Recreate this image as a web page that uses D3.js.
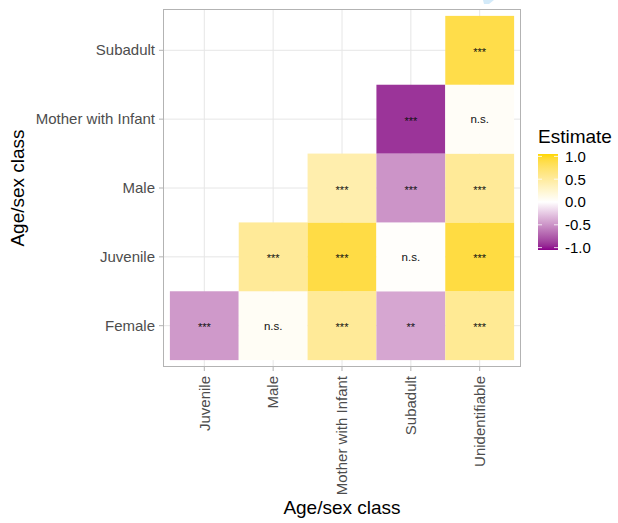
<!DOCTYPE html>
<html>
<head>
<meta charset="utf-8">
<script src="https://cdn.jsdelivr.net/npm/d3@7"></script>
<style>
  html, body { margin: 0; padding: 0; background: #ffffff; }
  svg { display: block; font-family: "Liberation Sans", Arial, Helvetica, sans-serif; }
</style>
</head>
<body>
<svg id="chart" width="618" height="523"></svg>
<script>
// Pairwise comparisons between age/sex classes
const xCategories = ["Juvenile", "Male", "Mother with Infant", "Subadult", "Unidentifiable"];
const yCategories = ["Female", "Juvenile", "Male", "Mother with Infant", "Subadult"];

// One entry per tile: column class, row class, estimate, significance label
const cellCol = [
  "Juvenile", "Male", "Mother with Infant", "Subadult", "Unidentifiable",
  "Male", "Mother with Infant", "Subadult", "Unidentifiable",
  "Mother with Infant", "Subadult", "Unidentifiable",
  "Subadult", "Unidentifiable",
  "Unidentifiable"
];
const cellRow = [
  "Female", "Female", "Female", "Female", "Female",
  "Juvenile", "Juvenile", "Juvenile", "Juvenile",
  "Male", "Male", "Male",
  "Mother with Infant", "Mother with Infant",
  "Subadult"
];
const estimates = [
  -0.45, 0.05, 0.50, -0.39, 0.52,
  0.50, 0.86, 0.02, 0.87,
  0.40, -0.47, 0.50,
  -0.88, 0.04,
  0.84
];
const signifLabels = [
  "***", "n.s.", "***", "**", "***",
  "***", "***", "n.s.", "***",
  "***", "***", "***",
  "***", "n.s.",
  "***"
];

const legendTicks = [1.0, 0.5, 0.0, -0.5, -1.0];
const xTitle = "Age/sex class";
const yTitle = "Age/sex class";
const legendTitle = "Estimate";

const cells = cellCol.map((c, i) => ({
  col: c, row: cellRow[i], value: estimates[i], label: signifLabels[i]
}));

const svg = d3.select("#chart");

const panel = { left: 163, right: 521, top: 9, bottom: 367 };

const x = d3.scaleBand()
  .domain(xCategories)
  .range([panel.left, panel.right])
  .paddingInner(0)
  .paddingOuter(0.1);

const y = d3.scaleBand()
  .domain(yCategories.slice().reverse())
  .range([panel.top, panel.bottom])
  .paddingInner(0)
  .paddingOuter(0.1);

const color = d3.scaleLinear()
  .domain([-1, 0, 1])
  .range(["#8B008B", "#FFFFFF", "#FFD700"])
  .interpolate(d3.interpolateLab)
  .clamp(true);

// small light-blue corner mark at the top edge
svg.append("path")
  .attr("d", "M483,0 L494,0 L489,4 L484,4 Z")
  .attr("fill", "#D3EAF9");

// Panel background and grid
svg.append("rect")
  .attr("x", panel.left).attr("y", panel.top)
  .attr("width", panel.right - panel.left).attr("height", panel.bottom - panel.top)
  .attr("fill", "#ffffff");

const grid = svg.append("g").attr("stroke", "#E6E6E6").attr("stroke-width", 1);
grid.selectAll("line.vx").data(xCategories).join("line")
  .attr("x1", d => x(d) + x.bandwidth() / 2).attr("x2", d => x(d) + x.bandwidth() / 2)
  .attr("y1", panel.top).attr("y2", panel.bottom);
grid.selectAll("line.hy").data(yCategories).join("line")
  .attr("y1", d => y(d) + y.bandwidth() / 2).attr("y2", d => y(d) + y.bandwidth() / 2)
  .attr("x1", panel.left).attr("x2", panel.right);

// Tiles
svg.append("g").selectAll("rect").data(cells).join("rect")
  .attr("x", d => x(d.col))
  .attr("y", d => y(d.row))
  .attr("width", x.bandwidth())
  .attr("height", y.bandwidth())
  .attr("fill", d => color(d.value));

// Significance labels
svg.append("g").selectAll("text").data(cells).join("text")
  .attr("x", d => x(d.col) + x.bandwidth() / 2)
  .attr("y", d => y(d.row) + y.bandwidth() / 2 + (d.label === "n.s." ? 4 : 5.5))
  .attr("text-anchor", "middle")
  .attr("font-size", d => d.label === "n.s." ? 11.5 : 11)
  .attr("fill", "#111111")
  .text(d => d.label);

// Panel border
svg.append("rect")
  .attr("x", panel.left + 0.5).attr("y", panel.top + 0.5)
  .attr("width", panel.right - panel.left - 1).attr("height", panel.bottom - panel.top - 1)
  .attr("fill", "none").attr("stroke", "#B3B3B3").attr("stroke-width", 1);

// Axes
const xAxis = svg.append("g")
  .attr("transform", `translate(0,${panel.bottom})`)
  .call(d3.axisBottom(x).tickSize(4).tickPadding(5));
xAxis.select(".domain").remove();
xAxis.selectAll(".tick line").attr("stroke", "#B3B3B3");
xAxis.selectAll(".tick text")
  .attr("font-size", 15)
  .attr("font-family", "Liberation Sans, Arial, sans-serif")
  .attr("fill", "#4D4D4D")
  .attr("transform", "rotate(-90)")
  .attr("text-anchor", "end")
  .attr("x", -9)
  .attr("y", 0)
  .attr("dy", "0.35em");

const yAxis = svg.append("g")
  .attr("transform", `translate(${panel.left},0)`)
  .call(d3.axisLeft(y).tickSize(4).tickPadding(4));
yAxis.select(".domain").remove();
yAxis.selectAll(".tick line").attr("stroke", "#B3B3B3");
yAxis.selectAll(".tick text")
  .attr("font-size", 15)
  .attr("font-family", "Liberation Sans, Arial, sans-serif")
  .attr("fill", "#4D4D4D");

// Axis titles
svg.append("text")
  .attr("x", (panel.left + panel.right) / 2)
  .attr("y", 514)
  .attr("text-anchor", "middle")
  .attr("font-size", 19)
  .attr("fill", "#000")
  .text(xTitle);

svg.append("text")
  .attr("transform", `translate(23.5,${(panel.top + panel.bottom) / 2}) rotate(-90)`)
  .attr("text-anchor", "middle")
  .attr("font-size", 19)
  .attr("fill", "#000")
  .text(yTitle);

// Colour bar legend
const bar = { x: 538, y: 154, w: 20, h: 96 };
const defs = svg.append("defs");
const grad = defs.append("linearGradient")
  .attr("id", "estGrad")
  .attr("x1", 0).attr("y1", 1).attr("x2", 0).attr("y2", 0);
d3.range(0, 1.0001, 0.05).forEach(t => {
  grad.append("stop")
    .attr("offset", t)
    .attr("stop-color", color(-1 + 2 * t));
});

svg.append("text")
  .attr("x", bar.x)
  .attr("y", 143)
  .attr("font-size", 19)
  .attr("fill", "#000")
  .text(legendTitle);

svg.append("rect")
  .attr("x", bar.x).attr("y", bar.y)
  .attr("width", bar.w).attr("height", bar.h)
  .attr("fill", "url(#estGrad)");

const inset = bar.h / 40;
const legendScale = d3.scaleLinear()
  .domain([-1, 1])
  .range([bar.y + bar.h - inset, bar.y + inset]);

const ticksG = svg.append("g");
ticksG.selectAll("line.l").data(legendTicks).join("line")
  .attr("x1", bar.x).attr("x2", bar.x + 4)
  .attr("y1", d => legendScale(d)).attr("y2", d => legendScale(d))
  .attr("stroke", "#ffffff").attr("stroke-width", 0.8);
ticksG.selectAll("line.r").data(legendTicks).join("line")
  .attr("x1", bar.x + bar.w - 4).attr("x2", bar.x + bar.w)
  .attr("y1", d => legendScale(d)).attr("y2", d => legendScale(d))
  .attr("stroke", "#ffffff").attr("stroke-width", 0.8);

svg.append("g").selectAll("text").data(legendTicks).join("text")
  .attr("x", bar.x + bar.w + 7)
  .attr("y", d => legendScale(d))
  .attr("dy", "0.36em")
  .attr("font-size", 15)
  .attr("fill", "#000")
  .text(d => d3.format(".1f")(d).replace("−", "-"));
</script>
</body>
</html>
